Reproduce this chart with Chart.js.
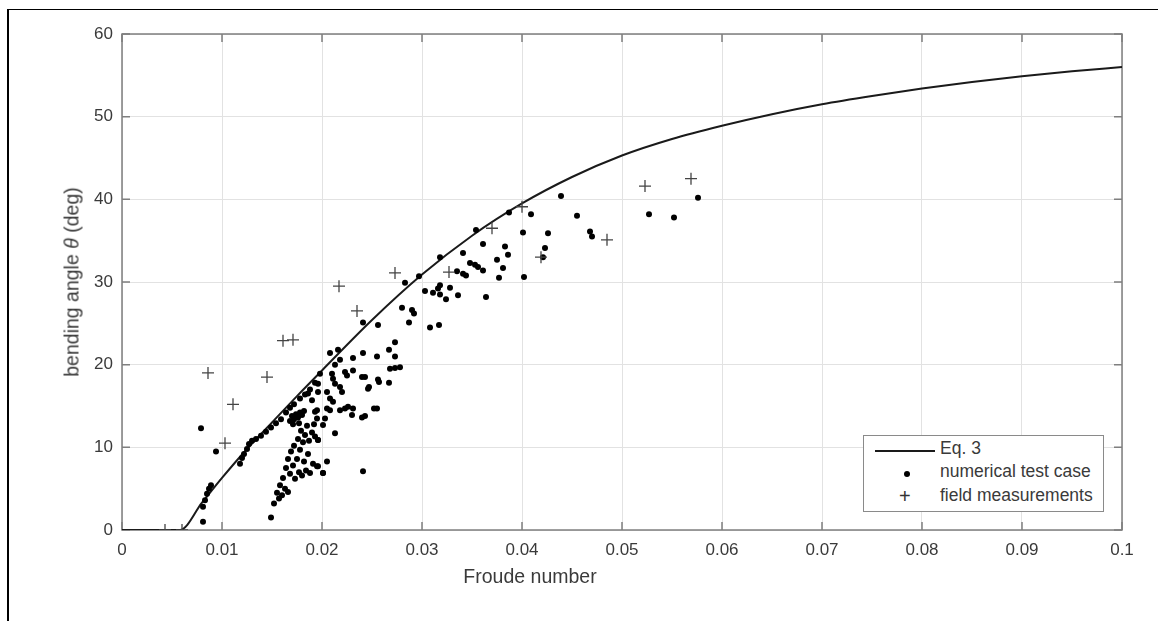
<!DOCTYPE html>
<html lang="en">
<head>
    <meta charset="UTF-8">
    <title>Bending angle vs Froude number</title>
    <script src="https://cdn.jsdelivr.net/npm/chart.js"></script>
    <style>
        body { margin: 0; background: #fff; font-family: "Liberation Sans", Arial, sans-serif; }
        #wrap { position: relative; width: 1158px; height: 621px; overflow: hidden; }
        .frame-top { position: absolute; left: 7px; right: 0; top: 9px; border-top: 1.5px solid #000; }
        .frame-left { position: absolute; left: 7px; top: 9px; bottom: 0; border-left: 2px solid #000; }
        .x-title { position: absolute; left: 430px; width: 200px; top: 565px; text-align: center; font-size: 19.5px; color: #3a3a3a; }
        .y-title { position: absolute; left: 72px; top: 282px; transform: translate(-50%, -50%) rotate(-90deg); white-space: nowrap; font-size: 19.5px; color: #3a3a3a; }
        .legend { position: absolute; left: 863px; top: 435px; width: 239px; height: 75px; border: 1.5px solid #8a8a8a; background: #fff; font-size: 17.5px; color: #3a3a3a; }
        .legend .row { position: absolute; left: 76px; white-space: nowrap; }
        .legend .line { position: absolute; left: 11px; top: 14px; width: 60px; border-top: 2px solid #1a1a1a; }
        .legend .dot { position: absolute; left: 40px; top: 35px; width: 6px; height: 6px; border-radius: 50%; background: #000; }
        .legend .plus { position: absolute; left: 35px; top: 49px; font-size: 20px; color: #333; }
    </style>
</head>
<body>
<div id="wrap">
    <canvas id="chart" width="1158" height="621"></canvas>
    <div class="frame-top"></div>
    <div class="frame-left"></div>
    <div class="y-title">bending angle <i>θ</i> (deg)</div>
    <div class="x-title">Froude number</div>
    <div class="legend">
        <div class="line"></div>
        <div class="row" style="top:2px">Eq. 3</div>
        <div class="dot"></div>
        <div class="row" style="top:25px">numerical test case</div>
        <div class="plus">+</div>
        <div class="row" style="top:49px">field measurements</div>
    </div>
</div>

<script>
    // Eq. 3 curve
    const eqX = [0, 0.0058, 0.008, 0.01, 0.0125, 0.015, 0.0175, 0.02, 0.025, 0.03, 0.035, 0.04, 0.045,
                 0.05, 0.055, 0.06, 0.065, 0.07, 0.075, 0.08, 0.085, 0.09, 0.095, 0.1];
    const eqY = [0, 0, 3.3, 6.3, 9.8, 13.0, 16.2, 19.3, 25.4, 30.9, 35.6, 39.5, 42.7,
                 45.3, 47.3, 48.9, 50.3, 51.5, 52.5, 53.4, 54.2, 54.9, 55.5, 56.0];

    // numerical test cases
    const numX = [
        0.0079, 0.0094, 0.0081, 0.0081, 0.0083, 0.0085, 0.0087, 0.0089,
        0.0118, 0.0120, 0.0122, 0.0125, 0.0127, 0.0130,
        0.0134, 0.0139, 0.0144, 0.0149, 0.0154, 0.0159, 0.0164, 0.0168, 0.0172, 0.0178, 0.0183, 0.0188, 0.0193,
        0.0168, 0.0170, 0.0172, 0.0174, 0.0176, 0.0178, 0.0180, 0.0182, 0.0171, 0.0177,
        0.0149, 0.0152, 0.0155, 0.0157, 0.0158, 0.0160, 0.0161, 0.0163, 0.0164, 0.0166, 0.0166, 0.0168, 0.0169,
        0.0171, 0.0172, 0.0173, 0.0175, 0.0176, 0.0177, 0.0178, 0.0179, 0.0180, 0.0181, 0.0182, 0.0183, 0.0184,
        0.0185, 0.0186, 0.0187, 0.0188, 0.0190, 0.0191, 0.0192, 0.0195, 0.0196, 0.0193, 0.0201, 0.0205, 0.0213,
        0.0208, 0.0216, 0.0218, 0.0231, 0.0241, 0.0213, 0.0198, 0.0210, 0.0211, 0.0213, 0.0223, 0.0225, 0.0231,
        0.0240, 0.0218, 0.0220, 0.0196, 0.0196, 0.0246, 0.0205, 0.0208, 0.0211, 0.0205, 0.0208, 0.0218, 0.0223,
        0.0226, 0.0231, 0.0193, 0.0195, 0.0203, 0.0201, 0.0230, 0.0240, 0.0252, 0.0196, 0.0196, 0.0201, 0.0241,
        0.0186, 0.0190, 0.0195,
        0.0241, 0.0256, 0.0273, 0.0267, 0.0273, 0.0255, 0.0268, 0.0273, 0.0278, 0.0243, 0.0256, 0.0257, 0.0267,
        0.0247, 0.0255, 0.0243,
        0.0283, 0.0297, 0.0318, 0.0354, 0.0387, 0.0409, 0.0455, 0.0401, 0.0426, 0.0361, 0.0383, 0.0386, 0.0341,
        0.0423, 0.0375, 0.0348, 0.0353, 0.0356, 0.0361, 0.0381, 0.0335, 0.0341, 0.0344, 0.0377, 0.0402, 0.0318,
        0.0328, 0.0318, 0.0324, 0.0303, 0.0311, 0.0316, 0.0336, 0.0364, 0.0280, 0.0290, 0.0292, 0.0287, 0.0308,
        0.0317,
        0.0439, 0.0468, 0.0470, 0.0527, 0.0552, 0.0576, 0.0421
    ];
    const numY = [
        12.3, 9.5, 1.0, 2.8, 3.6, 4.4, 5.0, 5.4,
        8.0, 8.7, 9.2, 9.8, 10.4, 10.8,
        11.0, 11.4, 11.9, 12.4, 12.9, 13.4, 14.2, 14.8, 15.2, 15.9, 16.4, 17.0, 17.8,
        13.2, 13.8, 13.4, 14.0, 13.6, 14.2, 13.9, 14.4, 12.8, 12.9,
        1.5, 3.2, 4.5, 3.8, 5.4, 4.2, 6.3, 5.0, 7.5, 4.6, 8.6, 6.8, 9.5,
        7.8, 10.2, 6.2, 8.6, 11.0, 7.0, 9.7, 12.0, 6.6, 10.6, 8.3, 11.5, 7.2,
        12.6, 9.2, 10.8, 6.9, 11.8, 8.0, 12.8, 7.7, 10.9, 11.3, 6.9, 8.3, 11.7,
        21.4, 21.8, 20.6, 20.8, 21.4, 20.0, 18.9, 18.9, 18.3, 17.7, 19.1, 18.7, 19.3,
        18.5, 17.3, 16.7, 17.7, 16.7, 17.1, 16.7, 15.9, 15.5, 14.7, 14.5, 14.5, 14.7,
        14.9, 14.7, 14.3, 13.5, 13.5, 12.7, 13.9, 13.6, 14.7, 10.9, 7.7, 6.9, 7.1,
        16.5, 15.7, 14.5,
        25.1, 24.8, 22.7, 21.8, 21.0, 21.0, 19.5, 19.6, 19.7, 18.5, 18.2, 17.9, 17.8,
        17.3, 14.7, 13.8,
        29.9, 30.7, 33.0, 36.3, 38.4, 38.2, 38.0, 36.0, 35.9, 34.6, 34.3, 33.3, 33.5,
        34.1, 32.7, 32.3, 32.1, 31.8, 31.4, 31.7, 31.3, 31.0, 30.8, 30.5, 30.6, 29.6,
        29.3, 28.5, 27.9, 28.9, 28.7, 29.2, 28.4, 28.2, 26.9, 26.6, 26.2, 25.1, 24.5,
        24.8,
        40.4, 36.1, 35.5, 38.2, 37.8, 40.2, 33.0
    ];

    // field measurements
    const fieldX = [0.0043, 0.0060, 0.0086, 0.0103, 0.0111, 0.0145, 0.0161, 0.0171, 0.0217,
                    0.0235, 0.0273, 0.0327, 0.0370, 0.0400, 0.0419, 0.0485, 0.0523, 0.0569];
    const fieldY = [0, 0, 19.0, 10.5, 15.2, 18.5, 22.9, 23.0, 29.5,
                    26.5, 31.1, 31.2, 36.5, 39.1, 33.0, 35.1, 41.6, 42.5];

    const xTickLabels = ['0', '0.01', '0.02', '0.03', '0.04', '0.05', '0.06', '0.07', '0.08', '0.09', '0.1'];
    const yTickLabels = ['0', '10', '20', '30', '40', '50', '60'];

    const toPoints = (xs, ys) => xs.map((x, i) => ({ x: x, y: ys[i] }));

    // box round the axes with inward ticks on all four sides
    const boxPlugin = {
        id: 'box',
        beforeDatasetsDraw(chart) {
            const { ctx, chartArea: a, scales } = chart;
            const len = 8;
            ctx.save();
            ctx.strokeStyle = '#7f7f7f';
            ctx.lineWidth = 1.5;
            ctx.strokeRect(a.left, a.top, a.right - a.left, a.bottom - a.top);
            ctx.beginPath();
            scales.x.ticks.forEach(t => {
                const px = scales.x.getPixelForValue(t.value);
                ctx.moveTo(px, a.bottom); ctx.lineTo(px, a.bottom - len);
                ctx.moveTo(px, a.top); ctx.lineTo(px, a.top + len);
            });
            scales.y.ticks.forEach(t => {
                const py = scales.y.getPixelForValue(t.value);
                ctx.moveTo(a.left, py); ctx.lineTo(a.left + len, py);
                ctx.moveTo(a.right, py); ctx.lineTo(a.right - len, py);
            });
            ctx.stroke();
            ctx.restore();
        }
    };

    const tickFont = { family: '"Liberation Sans", Arial, sans-serif', size: 17 };

    new Chart(document.getElementById('chart'), {
        type: 'scatter',
        data: {
            datasets: [
                {
                    label: 'Eq. 3',
                    data: toPoints(eqX, eqY),
                    showLine: true,
                    borderColor: '#1a1a1a',
                    borderWidth: 2,
                    pointRadius: 0,
                    cubicInterpolationMode: 'monotone',
                    order: 3
                },
                {
                    label: 'numerical test case',
                    data: toPoints(numX, numY),
                    pointRadius: 3,
                    pointBackgroundColor: '#000',
                    pointBorderWidth: 0,
                    order: 2
                },
                {
                    label: 'field measurements',
                    data: toPoints(fieldX, fieldY),
                    pointStyle: 'cross',
                    pointRadius: 6,
                    pointBorderColor: '#444',
                    pointBorderWidth: 1.3,
                    order: 1
                }
            ]
        },
        options: {
            responsive: false,
            animation: false,
            layout: { padding: { top: 34, right: 36, left: 0, bottom: 0 } },
            plugins: { legend: { display: false }, tooltip: { enabled: false } },
            scales: {
                x: {
                    type: 'linear',
                    min: 0,
                    max: 0.1,
                    ticks: {
                        stepSize: 0.01,
                        autoSkip: false,
                        maxRotation: 0,
                        padding: 10,
                        color: '#3a3a3a',
                        font: tickFont,
                        callback: (v, i) => xTickLabels[i]
                    },
                    grid: { color: '#e2e2e2', lineWidth: 1, drawTicks: false },
                    border: { display: false },
                    afterFit: s => { s.height = 91; }
                },
                y: {
                    min: 0,
                    max: 60,
                    ticks: {
                        stepSize: 10,
                        padding: 9,
                        color: '#3a3a3a',
                        font: tickFont,
                        callback: (v, i) => yTickLabels[i]
                    },
                    grid: { color: '#e2e2e2', lineWidth: 1, drawTicks: false },
                    border: { display: false },
                    afterFit: s => { s.width = 122; }
                }
            }
        },
        plugins: [boxPlugin]
    });
</script>
</body>
</html>
